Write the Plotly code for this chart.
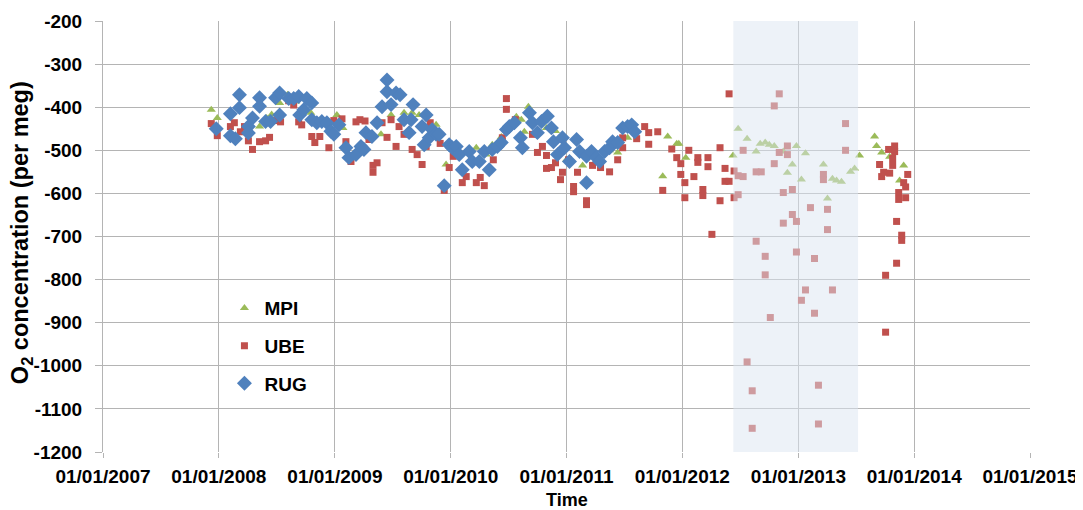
import pandas as pd
import plotly.graph_objects as go

# ---------------- data (decimal years, per meg) ----------------
mpi_t = [2007.935, 2007.987, 2008.351, 2008.411, 2008.455, 2008.524, 2008.593, 2008.662,
         2008.792, 2009.017, 2009.069, 2009.398, 2009.485, 2009.597, 2009.667, 2009.727,
         2009.874, 2009.960, 2010.074, 2010.160, 2010.221, 2010.307, 2010.359, 2010.437,
         2010.567, 2010.610, 2010.636, 2010.671, 2010.827, 2010.905, 2011.000, 2011.139,
         2011.286, 2011.372, 2011.442, 2011.528, 2011.831, 2011.874, 2011.952, 2011.970,
         2012.030, 2012.437, 2012.481, 2012.558, 2012.636, 2012.671, 2012.714, 2012.749,
         2012.792, 2012.870, 2012.905, 2012.948, 2012.983, 2013.026, 2013.061, 2013.216,
         2013.251, 2013.294, 2013.329, 2013.372, 2013.450, 2013.485, 2013.528, 2013.658,
         2013.675, 2013.719, 2013.788, 2013.874, 2013.909]
mpi_v = [-406, -425, -445, -425, -417, -390, -371, -387,
         -413, -418, -448, -463, -418, -413, -413, -418,
         -441, -533, -510, -500, -494, -510, -487, -469,
         -422, -429, -457, -399, -448, -455, -522, -535,
         -520, -500, -505, -471, -560, -468, -485, -485,
         -517, -512, -450, -473, -503, -485, -482, -487,
         -490, -503, -552, -533, -490, -568, -507, -533,
         -612, -566, -570, -573, -550, -542, -512, -468,
         -490, -505, -515, -570, -535]

ube_t = [2007.935, 2007.987, 2008.100, 2008.134, 2008.186, 2008.221, 2008.255, 2008.290,
         2008.351, 2008.403, 2008.437, 2008.489, 2008.532, 2008.602, 2008.645, 2008.688,
         2008.714, 2008.801, 2008.827, 2008.870, 2008.948, 2008.991, 2009.061, 2009.095,
         2009.139, 2009.182, 2009.216, 2009.260, 2009.294, 2009.329, 2009.329, 2009.364,
         2009.407, 2009.450, 2009.485, 2009.528, 2009.554, 2009.597, 2009.667, 2009.710,
         2009.753, 2009.788, 2009.823, 2009.909, 2009.944, 2009.987, 2010.022, 2010.100,
         2010.134, 2010.221, 2010.255, 2010.290, 2010.368, 2010.446, 2010.481, 2010.481,
         2010.558, 2010.706, 2010.749, 2010.792, 2010.827, 2010.827, 2010.870, 2010.905,
         2010.948, 2010.965, 2011.017, 2011.061, 2011.061, 2011.095, 2011.173, 2011.173,
         2011.225, 2011.294, 2011.372, 2011.442, 2011.485, 2011.485, 2011.606, 2011.675,
         2011.710, 2011.710, 2011.788, 2011.831, 2011.909, 2011.952, 2011.987, 2011.987,
         2012.022, 2012.022, 2012.056, 2012.100, 2012.134, 2012.134, 2012.177, 2012.177,
         2012.221, 2012.221, 2012.255, 2012.325, 2012.325, 2012.368, 2012.368, 2012.403,
         2012.403, 2012.446, 2012.446, 2012.481, 2012.481, 2012.524, 2012.524, 2012.558,
         2012.602, 2012.602, 2012.636, 2012.636, 2012.680, 2012.714, 2012.714, 2012.758,
         2012.792, 2012.792, 2012.835, 2012.835, 2012.870, 2012.870, 2012.905, 2012.905,
         2012.948, 2012.948, 2012.983, 2012.983, 2013.026, 2013.061, 2013.104, 2013.139,
         2013.139, 2013.173, 2013.173, 2013.216, 2013.216, 2013.251, 2013.251, 2013.294,
         2013.407, 2013.407, 2013.701, 2013.719, 2013.736, 2013.753, 2013.753, 2013.779,
         2013.788, 2013.814, 2013.814, 2013.831, 2013.831, 2013.848, 2013.848, 2013.866,
         2013.866, 2013.892, 2013.892, 2013.909, 2013.926, 2013.926, 2013.944]
ube_v = [-438, -466, -445, -436, -457, -445, -478, -498,
         -480, -478, -470, -431, -434, -385, -395, -434,
         -441, -468, -482, -468, -494, -431, -427, -480,
         -526, -434, -429, -432, -475, -535, -551, -529,
         -436, -470, -429, -491, -445, -463, -498, -510,
         -533, -491, -436, -484, -593, -540, -514, -575,
         -561, -575, -563, -582, -522, -471, -380, -405,
         -429, -463, -505, -491, -512, -542, -540, -529,
         -568, -551, -522, -584, -596, -551, -617, -626,
         -535, -540, -550, -522, -471, -494, -473, -445,
         -459, -486, -457, -593, -497, -517, -531, -556,
         -575, -610, -500, -561, -517, -528, -591, -605,
         -517, -538, -695, -494, -617, -542, -572, -572,
         -369, -548, -610, -603, -559, -500, -561, -991,
         -1058, -1145, -550, -711, -550, -746, -789, -888,
         -397, -531, -369, -505, -598, -669, -490, -510,
         -591, -649, -665, -736, -848, -824, -633, -751,
         -878, -1045, -1135, -556, -568, -637, -684, -824,
         -438, -500, -533, -561, -551, -790, -922, -498,
         -553, -519, -535, -490, -503, -665, -762, -598,
         -614, -697, -709, -575, -585, -610, -556]

rug_t = [2007.978, 2008.100, 2008.100, 2008.143, 2008.178, 2008.178, 2008.255, 2008.255,
         2008.290, 2008.351, 2008.351, 2008.403, 2008.446, 2008.489, 2008.524, 2008.524,
         2008.602, 2008.645, 2008.688, 2008.697, 2008.732, 2008.758, 2008.801, 2008.801,
         2008.844, 2008.887, 2008.931, 2008.965, 2009.035, 2008.991, 2009.095, 2009.121,
         2009.182, 2009.225, 2009.251, 2009.268, 2009.320, 2009.364, 2009.407, 2009.450,
         2009.450, 2009.485, 2009.528, 2009.563, 2009.597, 2009.658, 2009.675, 2009.641,
         2009.753, 2009.788, 2009.771, 2009.814, 2009.840, 2009.874, 2009.900, 2009.944,
         2009.987, 2010.013, 2010.048, 2010.074, 2010.100, 2010.160, 2010.186, 2010.247,
         2010.290, 2010.333, 2010.359, 2010.403, 2010.437, 2010.481, 2010.506, 2010.550,
         2010.602, 2010.619, 2010.680, 2010.706, 2010.749, 2010.784, 2010.835, 2010.870,
         2010.887, 2010.922, 2010.965, 2010.983, 2011.026, 2011.087, 2011.113, 2011.173,
         2011.173, 2011.216, 2011.260, 2011.286, 2011.329, 2011.372, 2011.398, 2011.442,
         2011.485, 2011.528, 2011.563, 2011.589]
rug_v = [-450, -415, -466, -473, -371, -401, -445, -460,
         -425, -378, -398, -433, -433, -378, -367, -418,
         -380, -380, -375, -418, -406, -380, -390, -429,
         -436, -433, -436, -456, -441, -463, -494, -517,
         -510, -491, -498, -459, -468, -436, -399, -337,
         -364, -394, -367, -371, -429, -429, -394, -459,
         -445, -418, -487, -471, -452, -463, -463, -582,
         -487, -494, -491, -510, -545, -503, -526, -526,
         -503, -545, -498, -491, -482, -452, -445, -436,
         -471, -494, -413, -436, -459, -433, -421, -448,
         -480, -510, -471, -494, -526, -475, -503, -514,
         -575, -503, -517, -526, -503, -494, -480, -482,
         -448, -445, -441, -457]

tick_years = [2007, 2008, 2009, 2010, 2011, 2012, 2013, 2014, 2015]
tick_labels = ["01/01/%d" % y for y in tick_years]
y_ticks = list(range(-1200, -199, 100))
y_labels = ["%d" % v for v in y_ticks]
shade_start, shade_end = "2012-06-10", "2013-07-08"
x_title = "Time"
y_title = "O<sub>2</sub> concentration (per meg)"


def to_date(v):
    y = int(v)
    a = pd.Timestamp(y, 1, 1)
    b = pd.Timestamp(y + 1, 1, 1)
    return a + (b - a) * (v - y)


FONT = "Arial, 'Liberation Sans', sans-serif"
GRID = "#b4b4b4"

fig = go.Figure()
fig.add_trace(go.Scatter(x=[to_date(v) for v in mpi_t], y=mpi_v, mode="markers", name="MPI",
                         legendgroup="g0",
                         marker=dict(symbol="triangle-up", size=8, color="#9BBB59")))
fig.add_trace(go.Scatter(x=[to_date(v) for v in ube_t], y=ube_v, mode="markers", name="UBE",
                         legendgroup="g1",
                         marker=dict(symbol="square", size=7, color="#C0504D")))
fig.add_trace(go.Scatter(x=[to_date(v) for v in rug_t], y=rug_v, mode="markers", name="RUG",
                         legendgroup="g2",
                         marker=dict(symbol="diamond", size=11.5, color="#4F81BD")))

fig.add_shape(type="rect", xref="x", yref="paper", x0=shade_start, x1=shade_end, y0=0, y1=1,
              fillcolor="#DCE6F2", opacity=0.5, line_width=0, layer="above")

fig.add_annotation(text=x_title, xref="paper", yref="paper", x=0.5, y=-0.111,
                   xanchor="center", yanchor="middle", showarrow=False,
                   font=dict(size=18, weight="bold"))
fig.add_annotation(text=y_title, xref="paper", yref="paper", x=-0.0885, y=0.51,
                   xanchor="center", yanchor="middle", showarrow=False, textangle=-90,
                   font=dict(size=23.5, weight="bold"))

fig.update_layout(
    width=1075, height=502,
    margin=dict(l=95, r=53, t=13, b=58),
    paper_bgcolor="white", plot_bgcolor="white",
    font=dict(family=FONT, size=15, color="black", weight="bold"),
    showlegend=True,
    legend=dict(x=0.131, y=0.378, xanchor="left", yanchor="top", bgcolor="rgba(0,0,0,0)",
                font=dict(size=19, weight="bold"), tracegroupgap=10, itemsizing="trace"),
    xaxis=dict(type="date", range=[to_date(2007), to_date(2015)],
               tickvals=[to_date(y) for y in tick_years], ticktext=tick_labels,
               showgrid=True, gridcolor=GRID, gridwidth=1, zeroline=False,
               showline=False, ticks="outside", ticklen=5, tickcolor=GRID,
               ticklabelstandoff=2,
               tickfont=dict(size=19, weight="bold"), automargin=False),
    yaxis=dict(range=[-1200, -200], tickvals=y_ticks, ticktext=y_labels, showgrid=True,
               gridcolor=GRID, gridwidth=1, zeroline=False, showline=True, linecolor=GRID,
               ticks="outside", ticklen=7, tickcolor=GRID, ticklabelstandoff=9,
               tickfont=dict(size=19, weight="bold"), automargin=False),
)

fig.write_html("out.html")
